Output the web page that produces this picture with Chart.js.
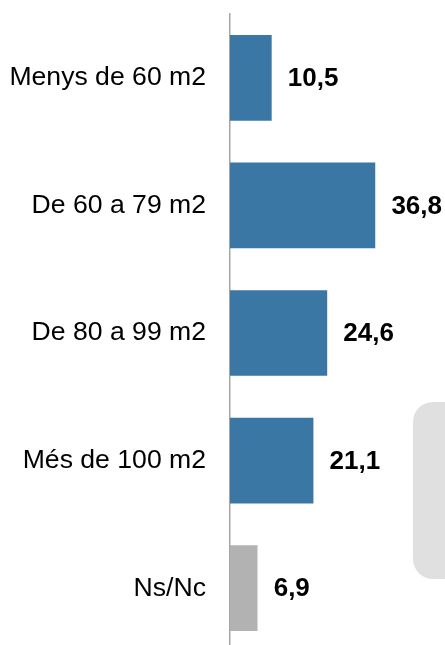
<!DOCTYPE html>
<html>
<head>
<meta charset="utf-8">
<script src="https://cdn.jsdelivr.net/npm/chart.js@4/dist/chart.umd.min.js"></script>
<style>
  html, body { margin: 0; padding: 0; background: #ffffff; overflow: hidden; }
  #wrap { position: relative; width: 445px; height: 645px; overflow: hidden; }
  #box { position: absolute; left: 413px; top: 402px; width: 60px; height: 177px;
         border-radius: 20px; background: #e0e0e0; }
  #cv-holder { position: absolute; left: 0; top: 0; width: 445px; height: 652px; }
</style>
</head>
<body>
<div id="wrap">
  <div id="box"></div>
  <div id="cv-holder"><canvas id="c" width="445" height="652"></canvas></div>
</div>
<script>
const categories = ["Menys de 60 m2", "De 60 a 79 m2", "De 80 a 99 m2", "Més de 100 m2", "Ns/Nc"];
const values = [10.5, 36.8, 24.6, 21.1, 6.9];

const FONT = "'Liberation Sans', Arial, sans-serif";

const valueLabels = {
  id: 'valueLabels',
  afterDatasetsDraw(chart) {
    const ctx = chart.ctx;
    const meta = chart.getDatasetMeta(0);
    ctx.save();
    ctx.font = "bold 26px " + FONT;
    ctx.fillStyle = "#000000";
    ctx.textAlign = "left";
    ctx.textBaseline = "middle";
    meta.data.forEach((bar, i) => {
      const txt = values[i].toFixed(1).replace('.', ',');
      ctx.fillText(txt, bar.x + 16.5, bar.y + 1);
    });
    ctx.restore();
  }
};

new Chart(document.getElementById('c'), {
  type: 'bar',
  data: {
    labels: categories,
    datasets: [{
      data: values,
      backgroundColor: (c) => categories[c.dataIndex] === 'Ns/Nc' ? '#b2b2b2' : '#3b77a5',
      borderWidth: 0,
      barThickness: 85
    }]
  },
  options: {
    indexAxis: 'y',
    responsive: false,
    animation: false,
    devicePixelRatio: 1,
    layout: { padding: { top: 14, bottom: 0, left: 0, right: 0 } },
    plugins: { legend: { display: false }, tooltip: { enabled: false } },
    scales: {
      x: { display: false, min: 0, max: 54.6 },
      y: {
        afterFit(scale) { scale.width = 230; scale.paddingTop = 0; scale.paddingBottom = 0; },
        grid: { display: false, drawTicks: false },
        border: { display: true, color: '#a6a6a6', width: 1.5 },
        ticks: { color: '#000000', padding: 24, font: { family: FONT, size: 26.6 } }
      }
    }
  },
  plugins: [valueLabels]
});
</script>
</body>
</html>
